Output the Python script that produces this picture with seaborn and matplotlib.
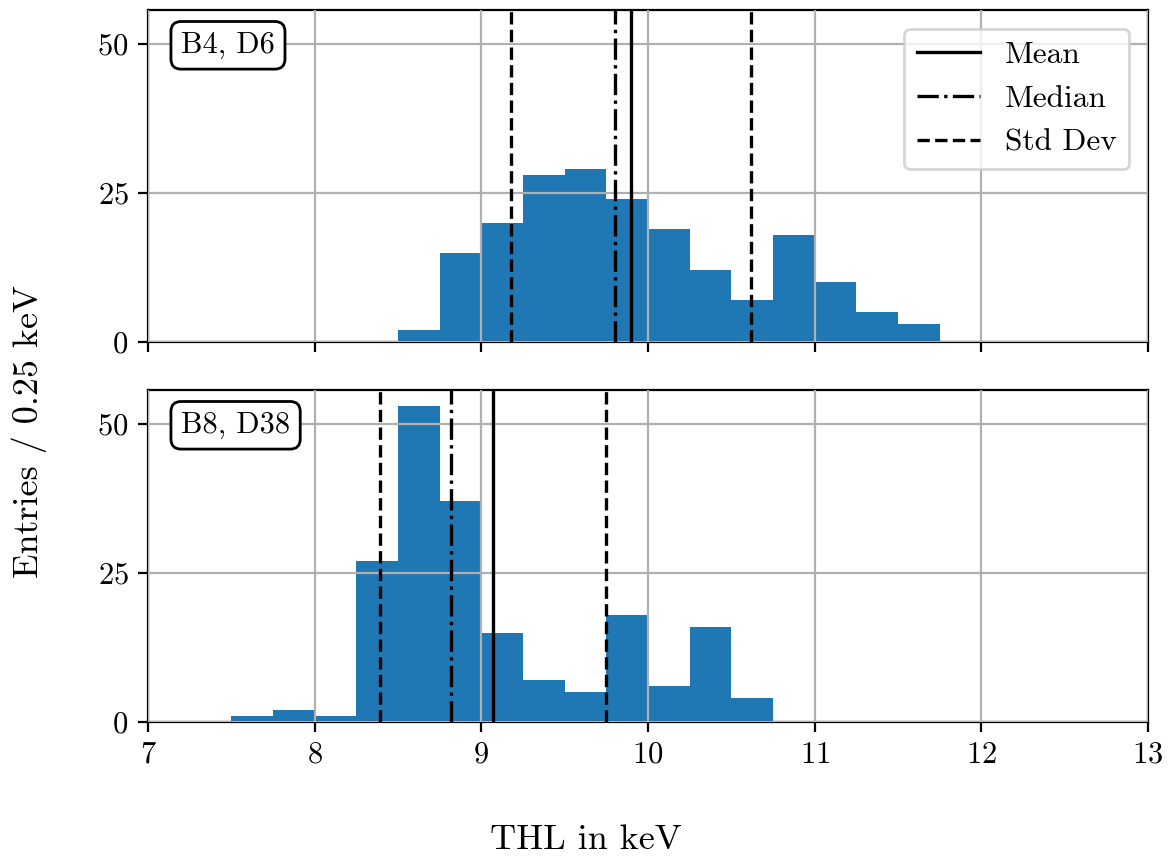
import numpy as np
import pandas as pd
import matplotlib
matplotlib.use("Agg")
import matplotlib.pyplot as plt
import seaborn as sns

# ---- data ----
bin_width = 0.25
bin_range = (7.0, 13.0)

top_label = "B4, D6"
top_bin_starts = [8.5, 8.75, 9.0, 9.25, 9.5, 9.75, 10.0, 10.25, 10.5, 10.75, 11.0, 11.25, 11.5]
top_counts = [2, 15, 20, 28, 29, 24, 19, 12, 7, 18, 10, 5, 3]
top_mean = 9.90
top_median = 9.80
top_std_lo = 9.18
top_std_hi = 10.62

bot_label = "B8, D38"
bot_bin_starts = [7.5, 7.75, 8.0, 8.25, 8.5, 8.75, 9.0, 9.25, 9.5, 9.75, 10.0, 10.25, 10.5]
bot_counts = [1, 2, 1, 27, 53, 37, 15, 7, 5, 18, 6, 16, 4]
bot_mean = 9.07
bot_median = 8.82
bot_std_lo = 8.39
bot_std_hi = 9.75

x_ticks = [7, 8, 9, 10, 11, 12, 13]
y_ticks = [0, 25, 50]

# ---- style ----
plt.rcParams.update({
    "font.family": "serif",
    "font.serif": ["cmr10", "DejaVu Serif"],
    "mathtext.fontset": "cm",
    "axes.formatter.use_mathtext": True,
    "font.size": 11,
    "axes.axisbelow": False,
    "axes.unicode_minus": False,
})

fig, axes = plt.subplots(2, 1, figsize=(5.86, 4.315), dpi=200, sharex=True, sharey=True)
fig.subplots_adjust(left=0.1263, right=0.9795, top=0.9884, bottom=0.1634, hspace=0.1446)

panels = [
    (axes[0], top_label, top_bin_starts, top_counts, top_mean, top_median, top_std_lo, top_std_hi),
    (axes[1], bot_label, bot_bin_starts, bot_counts, bot_mean, bot_median, bot_std_lo, bot_std_hi),
]

for i, (ax, label, starts, counts, mean, median, slo, shi) in enumerate(panels):
    df = pd.DataFrame({"thl": np.array(starts, dtype=float) + bin_width / 2,
                       "n": np.array(counts, dtype=float)})
    sns.histplot(data=df, x="thl", weights="n", binwidth=bin_width, binrange=bin_range,
                 ax=ax, color="#1f77b4", alpha=1.0, linewidth=0, edgecolor="none", zorder=1)
    ax.grid(True, color="#b0b0b0", linewidth=0.8)
    ax.axvline(mean, color="black", linestyle="-", linewidth=1.2, zorder=3, label="Mean")
    ax.axvline(median, color="black", linestyle="-.", linewidth=1.2, zorder=3, label="Median")
    ax.axvline(slo, color="black", linestyle="--", linewidth=1.2, zorder=3, label="Std Dev")
    ax.axvline(shi, color="black", linestyle="--", linewidth=1.2, zorder=3)
    ax.set_xlim(7, 13)
    ax.set_ylim(0, 55.65)
    ax.set_xticks(x_ticks)
    ax.set_yticks(y_ticks)
    ax.set_xlabel("")
    ax.set_ylabel("")
    ax.text(0.033, 0.935, label, transform=ax.transAxes, ha="left", va="top",
            bbox=dict(boxstyle="round,pad=0.33", facecolor="white", edgecolor="black", linewidth=1.0),
            zorder=5)
    if i == 0:
        ax.legend(loc="upper right", fontsize=11.3, borderaxespad=0.6)

fig.supxlabel("THL in keV", y=0.008, fontsize=13)
fig.supylabel("Entries / 0.25 keV", x=0.01, fontsize=13)

fig.savefig("out.png", dpi=200)
